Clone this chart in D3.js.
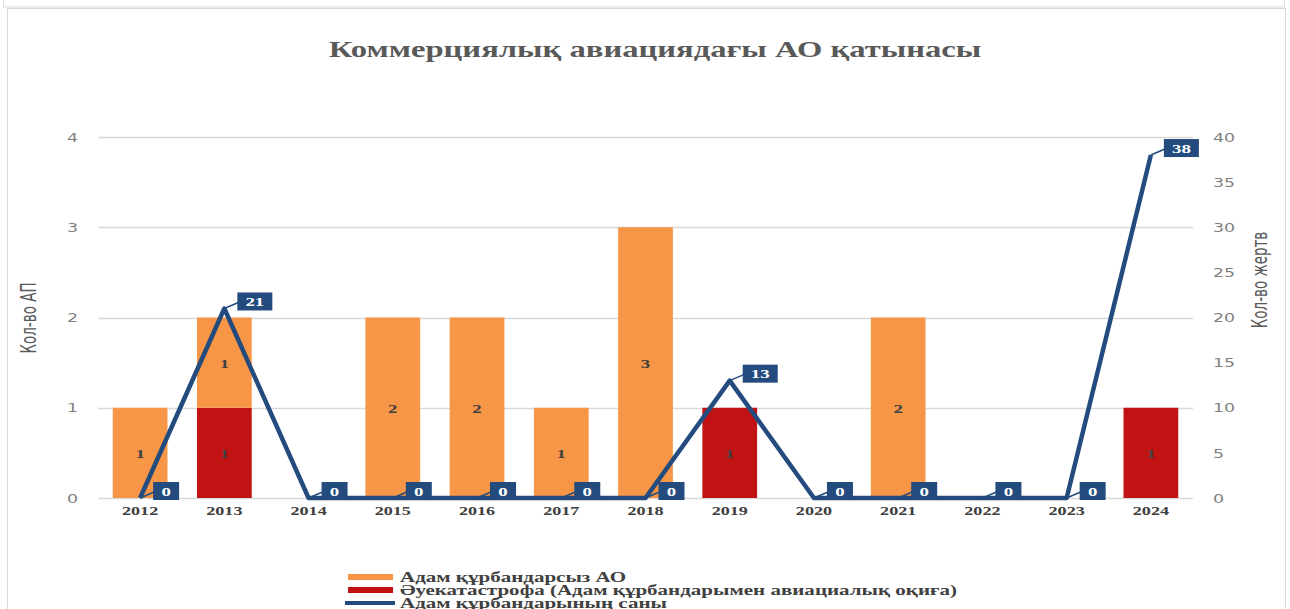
<!DOCTYPE html>
<html>
<head>
<meta charset="utf-8">
<script src="https://cdn.jsdelivr.net/npm/d3@7"></script>
<style>
  body { margin: 0; background: #fff; }
  .axis-label { font-family: "Liberation Sans Narrow", "DejaVu Sans Condensed", sans-serif; font-size: 15px; fill: #595959; }
  .tick-left, .tick-right { font-family: "DejaVu Sans", sans-serif; font-size: 12px; fill: #7f7f7f; }
  .xlab { font-family: "Liberation Serif", serif; font-weight: bold; font-size: 12.5px; fill: #404040; }
  .blabel { font-family: "Liberation Serif", serif; font-weight: bold; font-size: 13px; fill: #404040; }
  .vlabel { font-family: "Liberation Serif", serif; font-weight: bold; font-size: 13px; fill: #fff; }
  .legend { font-family: "Liberation Serif", serif; font-weight: bold; font-size: 14.5px; fill: #404040; }
</style>
</head>
<body>
<svg id="chart" width="1290" height="609"></svg>
<script>
var years = ["2012", "2013", "2014", "2015", "2016", "2017", "2018", "2019", "2020", "2021", "2022", "2023", "2024"];
var noVictims = [1, 1, 0, 2, 2, 1, 3, 0, 0, 2, 0, 0, 0];   // Адам құрбандарсыз АО
var crashes = [0, 1, 0, 0, 0, 0, 0, 1, 0, 0, 0, 0, 1];     // Әуекатастрофа
var victims = [0, 21, 0, 0, 0, 0, 0, 13, 0, 0, 0, 0, 38];  // Адам құрбандарының саны
var leftTicks = [0, 1, 2, 3, 4];
var rightTicks = [0, 5, 10, 15, 20, 25, 30, 35, 40];

var legendNames = [
  "Адам құрбандарсыз АО",
  "Әуекатастрофа (Адам құрбандарымен авиациалық оқиға)",
  "Адам құрбандарының саны"
];

var orange = "#f79646", red = "#c11313", blue = "#234b7e";
var SX = 1.45; // the reference text is stretched horizontally

var svg = d3.select("#chart");

// frames
svg.append("rect").attr("x", 3.5).attr("y", -5).attr("width", 1281).attr("height", 12)
  .style("fill", "none").style("stroke", "#d9d9d9");
svg.append("rect").attr("x", 7.5).attr("y", 8.5).attr("width", 1278).attr("height", 620)
  .style("fill", "none").style("stroke", "#d9d9d9");

var x = d3.scaleBand()
  .domain(years)
  .range([98, 1193])
  .paddingInner(0.35)
  .paddingOuter(0.175);
var y = d3.scaleLinear().domain([0, 4]).range([498, 137]);
var y2 = d3.scaleLinear().domain([0, 40]).range([498, 137]);

// title
svg.append("text")
  .attr("transform", "translate(655,57) scale(" + SX + ",1)")
  .attr("text-anchor", "middle")
  .style("font-family", "Liberation Serif, serif")
  .style("font-weight", "bold")
  .style("font-size", "22.5px")
  .style("fill", "#595959")
  .text("Коммерциялық авиациядағы АО қатынасы");

// gridlines
svg.append("g").selectAll("line").data(leftTicks)
  .enter().append("line")
  .attr("x1", 98).attr("x2", 1193)
  .attr("y1", function(d) {return Math.round(y(d)) + 0.5;})
  .attr("y2", function(d) {return Math.round(y(d)) + 0.5;})
  .style("stroke", "#d9d9d9")
  .style("stroke-width", 1.5);

function cleanTicks(g, cls, dy) {
  g.select(".domain").remove();
  g.selectAll("text").attr("class", cls).attr("dy", dy)
    .attr("transform", "scale(" + SX + ",1)")
    .attr("fill", null);
  g.attr("font-family", null).attr("font-size", null);
}

// left axis labels
var yAxis = d3.axisLeft(y).tickValues(leftTicks).tickFormat(d3.format("d")).tickSize(0).tickPadding(0);
var gl = svg.append("g").attr("transform", "translate(78,0)").call(yAxis);
cleanTicks(gl, "tick-left", "0.35em");

// right axis labels
var yAxis2 = d3.axisRight(y2).tickValues(rightTicks).tickSize(0).tickPadding(0);
var gr = svg.append("g").attr("transform", "translate(1213,0)").call(yAxis2);
cleanTicks(gr, "tick-right", "0.35em");

// x labels
var xAxis = d3.axisBottom(x).tickSize(0).tickPadding(0);
var gx = svg.append("g").attr("transform", "translate(0,506)").call(xAxis);
cleanTicks(gx, "xlab", "0.71em");

// axis titles
svg.append("text").attr("class", "axis-label")
  .attr("transform", "translate(36,318) scale(1.4,1) rotate(-90)")
  .attr("text-anchor", "middle")
  .text("Кол-во АП");
svg.append("text").attr("class", "axis-label")
  .attr("transform", "translate(1267,280) scale(1.4,1) rotate(-90)")
  .attr("text-anchor", "middle")
  .text("Кол-во жертв");

// stacked bars: catastrophe at the bottom, non-fatal on top
var rows = years.map(function(yr, i) {
  return {year: yr, crash: crashes[i], safe: noVictims[i], victims: victims[i]};
});
var stack = d3.stack().keys(["crash", "safe"])(rows);
var colors = {crash: red, safe: orange};

stack.forEach(function(layer) {
  var g = svg.append("g");
  g.selectAll("rect").data(layer)
    .enter().append("rect")
    .attr("x", function(d) {return x(d.data.year);})
    .attr("y", function(d) {return y(d[1]);})
    .attr("width", x.bandwidth())
    .attr("height", function(d) {return y(d[0]) - y(d[1]);})
    .style("fill", colors[layer.key]);
  g.selectAll("text").data(layer.filter(function(d) {return d[1] - d[0] > 0;}))
    .enter().append("text")
    .attr("class", "blabel")
    .attr("text-anchor", "middle")
    .attr("transform", function(d) {
      var cx = x(d.data.year) + x.bandwidth() / 2, cy = (y(d[0]) + y(d[1])) / 2 + 5;
      return "translate(" + cx + "," + cy + ") scale(" + SX + ",1)";
    })
    .text(function(d) {return d[1] - d[0];});
});

// victims line
var line = d3.line()
  .x(function(d) {return x(d.year) + x.bandwidth() / 2;})
  .y(function(d) {return y2(d.victims);});

svg.append("path")
  .datum(rows)
  .style("fill", "none")
  .style("stroke", blue)
  .style("stroke-width", 4.5)
  .style("stroke-linejoin", "round")
  .attr("d", line);

// value callouts
var callouts = svg.append("g").selectAll("g").data(rows)
  .enter().append("g")
  .attr("transform", function(d) {
    var px = x(d.year) + x.bandwidth() / 2, py = y2(d.victims);
    return "translate(" + px + "," + Math.max(py, 146) + ")";
  });
callouts.append("line")
  .attr("x1", 0).attr("y1", 0).attr("x2", 14).attr("y2", -6)
  .style("stroke", blue).style("stroke-width", 1.5);
callouts.append("rect")
  .attr("x", 13)
  .attr("y", -16)
  .attr("height", 18)
  .attr("width", function(d) {return String(d.victims).length > 1 ? 35 : 26;})
  .style("fill", blue);
callouts.append("text")
  .attr("class", "vlabel")
  .attr("text-anchor", "middle")
  .attr("transform", function(d) {
    var cx = String(d.victims).length > 1 ? 30.5 : 26;
    return "translate(" + cx + ",-2.5) scale(" + SX + ",1)";
  })
  .text(function(d) {return d.victims;});

// legend
var legend = svg.append("g").selectAll("g").data(legendNames)
  .enter().append("g")
  .attr("transform", function(d, i) {return "translate(348," + (577 + i * 13) + ")";});
legend.each(function(d, i) {
  var g = d3.select(this);
  if (i < 2) {
    g.append("rect").attr("x", 0).attr("y", -3).attr("width", 45).attr("height", 6)
      .style("fill", i == 0 ? orange : red);
  } else {
    g.append("line").attr("x1", -3).attr("x2", 47).attr("y1", 0).attr("y2", 0)
      .style("stroke", blue).style("stroke-width", 4);
  }
  g.append("text").attr("class", "legend")
    .attr("transform", "translate(52,5) scale(" + SX + ",1)")
    .text(d);
});
</script>
</body>
</html>
